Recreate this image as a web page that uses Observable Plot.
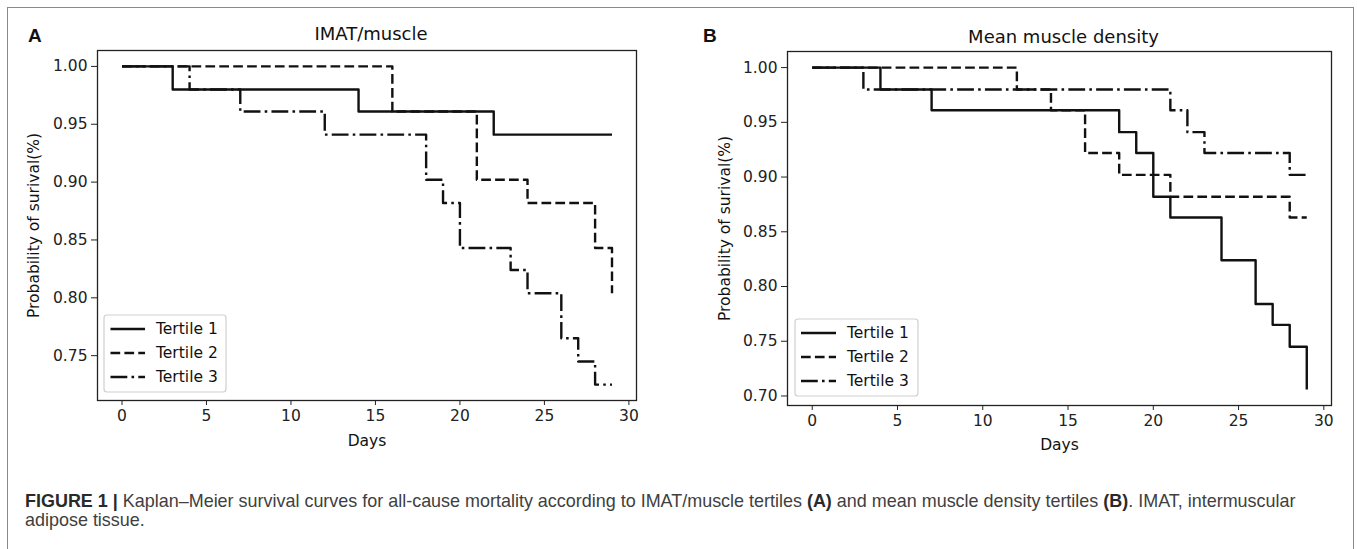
<!DOCTYPE html>
<html>
<head>
<meta charset="utf-8">
<script src="https://cdn.jsdelivr.net/npm/d3@7"></script>
<script src="https://cdn.jsdelivr.net/npm/@observablehq/plot@0.6"></script>
<style>
  html, body { margin: 0; padding: 0; background: #fff; }
  #wrap { position: relative; width: 1357px; height: 549px; overflow: hidden; background: #fff; }
  #border { position: absolute; left: 7px; top: 7px; width: 1347px; height: 570px; z-index: 5;
            border: 1.5px solid #8a8a8a; box-sizing: border-box; pointer-events: none; }
  .panel { position: absolute; top: 0; z-index: 1; }
  .panel svg { display: block; }
  .legend { position: absolute; left: 0; top: 0; pointer-events: none; }
  .plabel { position: absolute; z-index: 6; font-family: "Liberation Sans", Arial, sans-serif; font-weight: bold;
            font-size: 19px; line-height: 19px; color: #111; }
  #caption { position: absolute; left: 25px; z-index: 6; font-family: "Liberation Sans", Arial, sans-serif;
             color: #404040; white-space: nowrap; line-height: 19px; }
  #caption b { color: #2a2a2a; }
</style>
</head>
<body>
<div id="wrap">
  <div class="panel" id="panelA" style="left:0px;"></div>
  <div class="panel" id="panelB" style="left:680px;"></div>
  <div id="border"></div>
  <div class="plabel" id="labA" style="left:28px;top:26px;">A</div>
  <div class="plabel" id="labB" style="left:703px;top:26px;">B</div>
  <div id="caption"><b>FIGURE 1 |</b> Kaplan–Meier survival curves for all-cause mortality according to IMAT/muscle tertiles <b>(A)</b> and mean muscle density tertiles <b>(B)</b>. IMAT, intermuscular<br>adipose tissue.</div>
</div>
<script>
// ---------- data ----------
const xTicks = [0, 5, 10, 15, 20, 25, 30];
const imatYTicks = [0.75, 0.80, 0.85, 0.90, 0.95, 1.00];
const mmdYTicks = [0.70, 0.75, 0.80, 0.85, 0.90, 0.95, 1.00];
const tertiles = ["Tertile 1", "Tertile 2", "Tertile 3"];
const titles = ["IMAT/muscle", "Mean muscle density"];
const xLabel = "Days";
const yLabel = "Probability of surival(%)";

// Panel A: IMAT/muscle
const imatT1Days = [0, 3, 14, 22, 29];
const imatT1Surv = [1.000, 0.980, 0.961, 0.941, 0.941];
const imatT2Days = [0, 16, 21, 24, 28, 29];
const imatT2Surv = [1.000, 0.961, 0.902, 0.882, 0.843, 0.804];
const imatT3Days = [0, 4, 7, 12, 18, 19, 20, 23, 24, 26, 27, 28, 29];
const imatT3Surv = [1.000, 0.980, 0.961, 0.941, 0.902, 0.882, 0.843, 0.824, 0.804, 0.765, 0.745, 0.725, 0.725];

// Panel B: Mean muscle density
const mmdT1Days = [0, 4, 7, 18, 19, 20, 21, 24, 26, 27, 28, 29];
const mmdT1Surv = [1.000, 0.980, 0.961, 0.941, 0.922, 0.882, 0.863, 0.824, 0.784, 0.765, 0.745, 0.706];
const mmdT2Days = [0, 12, 14, 16, 18, 21, 28, 29];
const mmdT2Surv = [1.000, 0.980, 0.961, 0.922, 0.902, 0.882, 0.863, 0.863];
const mmdT3Days = [0, 3, 21, 22, 23, 28, 29];
const mmdT3Surv = [1.000, 0.980, 0.961, 0.941, 0.922, 0.902, 0.902];

// ---------- styles ----------
const ink = "#111";
const dashes = [null, "9.7,4.2", "16.8,4.2,2.6,4.2"];
const lineW = 2.4;

function rows(days, surv, series) {
  return days.map((d, i) => ({day: d, surv: surv[i], series}));
}
function padded(lo, hi) { const p = 0.05 * (hi - lo); return [lo - p, hi + p]; }

function makePanel(opts) {
  const {el, title, series, yTicks, width, height, ml, mr, mt, mb, titleDy, daysDy, ylabDx, legend} = opts;
  const all = series.flat();
  const xDom = padded(d3.min(all, d => d.day), d3.max(all, d => d.day));
  const yDom = padded(d3.min(all, d => d.surv), d3.max(all, d => d.surv));
  const marks = [];
  series.forEach((s, i) => {
    const o = {x: "day", y: "surv", curve: "step-after", stroke: ink, strokeWidth: lineW,
               strokeLinecap: "butt", strokeLinejoin: "round"};
    if (dashes[i]) o.strokeDasharray = dashes[i];
    marks.push(Plot.line(s, o));
  });
  marks.push(Plot.frame({stroke: "#222", strokeWidth: 1.3}));
  marks.push(Plot.text([title], {frameAnchor: "top", dx: 4, dy: titleDy, fontSize: 18, lineAnchor: "middle", fill: ink}));
  marks.push(Plot.text([xLabel], {frameAnchor: "bottom", dy: daysDy, fontSize: 15.5, lineAnchor: "middle", fill: ink}));
  marks.push(Plot.text([yLabel], {frameAnchor: "left", dx: ylabDx, rotate: -90, fontSize: 15.5,
                                  textAnchor: "middle", lineAnchor: "middle", fill: ink}));
  const chart = Plot.plot({
    width, height,
    marginLeft: ml, marginRight: mr, marginTop: mt, marginBottom: mb,
    style: {fontFamily: "DejaVu Sans, sans-serif", fontSize: "15.5px", color: "#222", background: "transparent", overflow: "visible"},
    x: {domain: xDom, ticks: xTicks, tickSize: 5, tickPadding: 4, tickFormat: d => String(d), label: null},
    y: {domain: yDom, ticks: yTicks, tickSize: 6, tickPadding: 4, tickFormat: d3.format(".2f"), label: null},
    marks
  });
  el.appendChild(chart);

  // legend
  const L = legend;
  const svg = d3.select(el).append("svg").attr("class", "legend")
    .attr("width", width).attr("height", height);
  svg.append("rect").attr("x", L.x).attr("y", L.y).attr("width", L.w).attr("height", L.h)
    .attr("rx", 3).attr("fill", "white").attr("fill-opacity", 0.85)
    .attr("stroke", "#cfcfcf").attr("stroke-width", 1.2);
  tertiles.forEach((t, i) => {
    const cy = L.rows[i];
    const ln = svg.append("line").attr("x1", L.lx1).attr("x2", L.lx2).attr("y1", cy).attr("y2", cy)
      .attr("stroke", ink).attr("stroke-width", lineW).attr("stroke-linecap", "butt");
    if (dashes[i]) ln.attr("stroke-dasharray", dashes[i]);
    svg.append("text").attr("x", L.tx).attr("y", cy).attr("dy", "0.35em")
      .attr("font-family", "DejaVu Sans, sans-serif").attr("font-size", 15.5).attr("fill", ink).text(t);
  });
}

makePanel({
  el: document.getElementById("panelA"), title: titles[0],
  series: [rows(imatT1Days, imatT1Surv, tertiles[0]), rows(imatT2Days, imatT2Surv, tertiles[1]), rows(imatT3Days, imatT3Surv, tertiles[2])],
  yTicks: imatYTicks, width: 680, height: 460, ml: 97, mr: 44, mt: 50, mb: 60,
  titleDy: -16, daysDy: 41, ylabDx: -63,
  legend: {x: 104, y: 315, w: 122, h: 77, rows: [329, 353, 377], lx1: 110.5, lx2: 145, tx: 156}
});
makePanel({
  el: document.getElementById("panelB"), title: titles[1],
  series: [rows(mmdT1Days, mmdT1Surv, tertiles[0]), rows(mmdT2Days, mmdT2Surv, tertiles[1]), rows(mmdT3Days, mmdT3Surv, tertiles[2])],
  yTicks: mmdYTicks, width: 677, height: 460, ml: 107, mr: 26, mt: 51, mb: 55,
  titleDy: -14.5, daysDy: 40, ylabDx: -62,
  legend: {x: 115, y: 319, w: 123, h: 77, rows: [333, 357, 381], lx1: 121, lx2: 156, tx: 167}
});

// caption sizing: fit first line to reference width
(function () {
  const cap = document.getElementById("caption");
  const target = 1272;
  let fs = 16;
  cap.style.fontSize = fs + "px";
  const probe = document.createElement("span");
  probe.style.cssText = "position:absolute;visibility:hidden;white-space:nowrap;font-family:'Liberation Sans',Arial,sans-serif;";
  probe.innerHTML = cap.innerHTML.split("<br>")[0];
  probe.style.fontSize = fs + "px";
  document.body.appendChild(probe);
  const w = probe.getBoundingClientRect().width;
  probe.remove();
  if (w > 0) fs = Math.max(13, Math.min(19, fs * target / w));
  cap.style.fontSize = fs.toFixed(2) + "px";
  const top = 508 - ((19 - 1.117 * fs) / 2 + 0.905 * fs);
  cap.style.top = top.toFixed(1) + "px";
})();
</script>
</body>
</html>
